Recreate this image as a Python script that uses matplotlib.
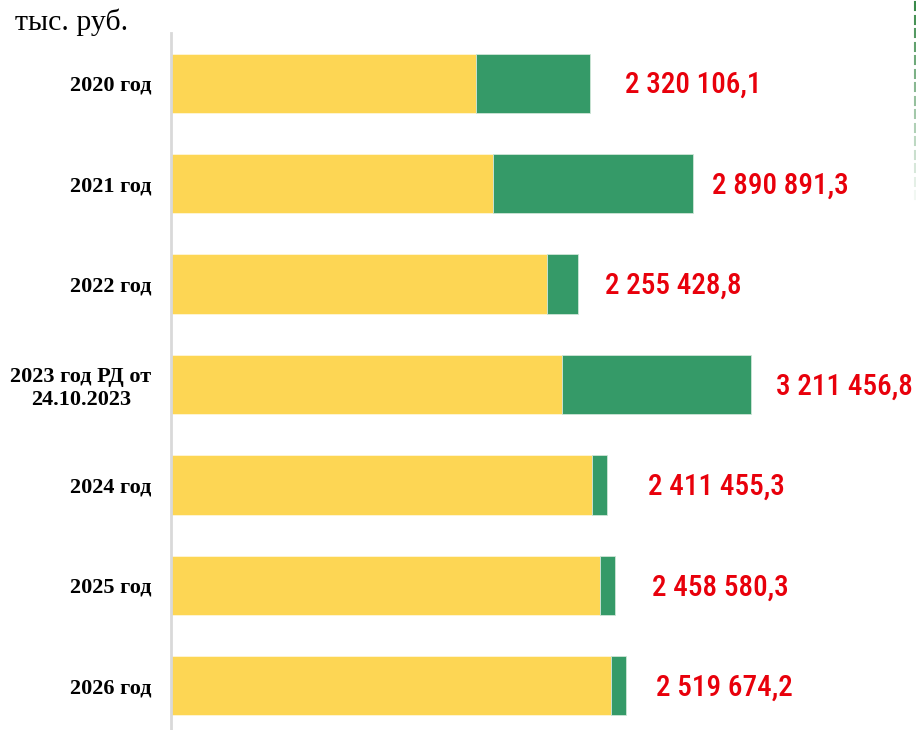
import matplotlib
matplotlib.use("Agg")
import matplotlib.pyplot as plt
import numpy as np

categories = ["2020 год", "2021 год", "2022 год", "2023 год РД от\n24.10.2023",
              "2024 год", "2025 год", "2026 год"]
totals = [2320106.1, 2890891.3, 2255428.8, 3211456.8, 2411455.3, 2458580.3, 2519674.2]
yellow_part = [1689000, 1783000, 2082000, 2165000, 2331000, 2375000, 2436000]
green_part = [t - y for t, y in zip(totals, yellow_part)]
total_labels = ["2 320 106,1", "2 890 891,3", "2 255 428,8", "3 211 456,8",
                "2 411 455,3", "2 458 580,3", "2 519 674,2"]
unit_label = "тыс. руб."

# label gap (px) after bar end, styling only
label_gap_px = [35, 19, 27, 25, 41, 37, 30]

W, H, DPI = 916, 730, 100
fig = plt.figure(figsize=(W / DPI, H / DPI), dpi=DPI)

ax_left, ax_right = 171, 916
ax_top, ax_bot = 33, 736
ax = fig.add_axes([ax_left / W, 1 - ax_bot / H, (ax_right - ax_left) / W, (ax_bot - ax_top) / H])

YELLOW = "#FDD654"
GREEN = "#359A68"
RED = "#E8000B"

y = np.arange(len(categories))
ax.barh(y, yellow_part, height=0.59, color=YELLOW, edgecolor="#FFF6D8", linewidth=0.6)
ax.barh(y, green_part, left=yellow_part, height=0.59, color=GREEN, edgecolor="#CFE6D8", linewidth=0.6)

ax.set_ylim(len(categories) - 0.5, -0.5)
px_per_unit = 1 / 5537.0
ax.set_xlim(0, (ax_right - ax_left) / px_per_unit)

for i, (t, lab) in enumerate(zip(totals, total_labels)):
    ax.annotate(lab, xy=(t, i), xytext=(label_gap_px[i], -2), textcoords="offset pixels",
                ha="left", va="center", color=RED, fontsize=21, fontweight="medium",
                family=["Roboto Condensed", "Liberation Sans Narrow", "Roboto", "DejaVu Sans"],
                annotation_clip=False)

ax.set_yticks(y)
ax.set_yticklabels(categories, fontsize=16, fontweight="bold",
                   family=["Liberation Serif", "DejaVu Serif"], multialignment="center",
                   linespacing=1.2)
ax.tick_params(axis="y", length=0, pad=14)
ax.set_xticks([])
for s in ["top", "right", "bottom"]:
    ax.spines[s].set_visible(False)
ax.spines["left"].set_color("#D9D9D9")
ax.spines["left"].set_linewidth(2)

fig.text(15 / W, 1 - 30 / H, unit_label, ha="left", va="baseline", fontsize=21.5,
         family=["Liberation Serif", "DejaVu Serif"], color="#000000")

# fading dashed decoration at right edge
n = 15
for k in range(n):
    y0 = 2 + k * 13.5
    a = max(0.05, 1 - k / n)
    fig.add_artist(plt.Line2D([914.5 / W, 914.5 / W], [1 - y0 / H, 1 - (y0 + 8) / H],
                              color="#3A8A4A", alpha=a, linewidth=1.5))

fig.savefig("out.png", dpi=DPI)
